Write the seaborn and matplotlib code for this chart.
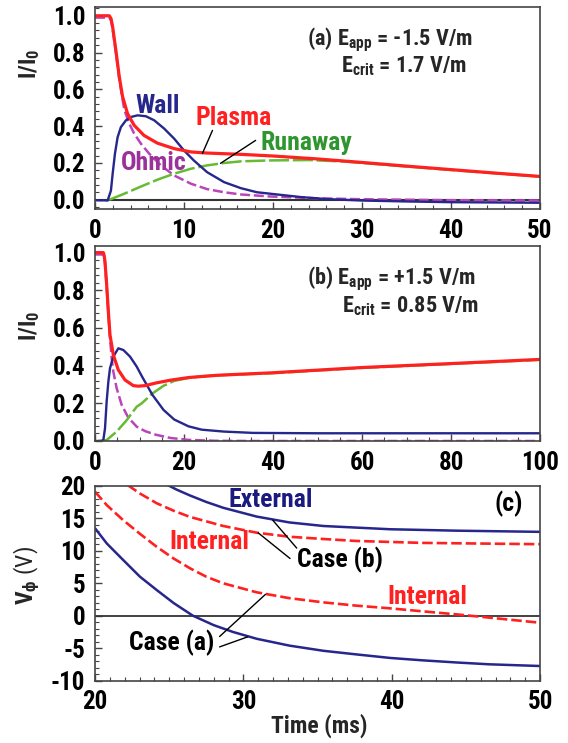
import matplotlib
matplotlib.use("Agg")
import matplotlib.pyplot as plt
import matplotlib.font_manager as fm
from matplotlib.ticker import MultipleLocator, FormatStrFormatter
import seaborn as sns

# ---------------- data ----------------
# Panel (a)
a_plasma_t = [0, 1.6, 1.8, 1.98, 2.35, 2.73, 3.1, 3.66, 4.4, 5.5, 7.0, 8.9, 10.8, 12.6, 16.4, 20, 25, 30, 35, 40, 45, 50]
a_plasma_i = [1.0, 1.0, 0.985, 0.94, 0.81, 0.668, 0.56, 0.468, 0.405, 0.35, 0.308, 0.278, 0.26, 0.254, 0.247, 0.238, 0.222, 0.203, 0.183, 0.164, 0.145, 0.127]
a_wall_t = [0, 1.0, 1.42, 1.79, 1.98, 2.24, 2.54, 2.91, 3.48, 4.04, 4.79, 5.72, 6.65, 7.77, 8.9, 10.0, 11.1, 12.6, 14.5, 16.4, 18.2, 19.7, 23.1, 26, 30, 35, 40, 50]
a_wall_i = [-0.002, -0.003, -0.004, 0.05, 0.14, 0.25, 0.34, 0.395, 0.432, 0.45, 0.459, 0.454, 0.432, 0.387, 0.332, 0.268, 0.214, 0.15, 0.096, 0.063, 0.041, 0.033, 0.015, 0.004, -0.004, -0.009, -0.013, -0.016]
a_ohmic_t = [0, 1.6, 1.8, 1.98, 2.35, 2.73, 3.1, 3.29, 3.85, 4.4, 5.16, 6.1, 7.4, 8.9, 10.8, 12.6, 14.5, 16.4, 19.7, 25, 30, 40, 50]
a_ohmic_i = [0.99, 0.99, 0.975, 0.93, 0.80, 0.655, 0.545, 0.49, 0.414, 0.36, 0.305, 0.25, 0.187, 0.132, 0.087, 0.058, 0.041, 0.029, 0.018, 0.008, 0.003, -0.002, -0.004]
a_runaway_t = [1.6, 3.29, 5.16, 7.0, 8.9, 10.8, 12.6, 14.5, 16.4, 19.7, 24, 28, 30, 35, 40, 45, 50]
a_runaway_i = [0.0, 0.033, 0.072, 0.109, 0.142, 0.169, 0.187, 0.2, 0.209, 0.214, 0.216, 0.208, 0.2, 0.181, 0.162, 0.144, 0.126]

# Panel (b)
b_plasma_t = [0, 1.87, 2.05, 2.25, 2.62, 3.0, 3.37, 4.12, 5.24, 6.74, 8.6, 9.7, 11.3, 13.7, 17, 21.1, 27.6, 39.8, 60, 80, 100]
b_plasma_i = [1.0, 1.0, 0.985, 0.952, 0.83, 0.687, 0.563, 0.457, 0.377, 0.324, 0.294, 0.291, 0.294, 0.308, 0.323, 0.337, 0.349, 0.362, 0.39, 0.411, 0.433]
b_wall_t = [0, 1.5, 1.87, 2.25, 2.62, 3.0, 3.37, 4.12, 5.24, 6.37, 7.87, 9.37, 10.5, 12.9, 15.4, 17.8, 21, 24, 29, 35.5, 50, 100]
b_wall_i = [0.0, 0.0, 0.005, 0.067, 0.21, 0.315, 0.386, 0.448, 0.492, 0.483, 0.448, 0.395, 0.345, 0.245, 0.165, 0.114, 0.078, 0.06, 0.05, 0.043, 0.041, 0.041]
b_ohmic_t = [0, 1.87, 2.05, 2.25, 2.62, 3.0, 3.37, 3.75, 4.12, 4.87, 6.0, 7.49, 9.37, 11.3, 13.7, 17, 21, 27, 35, 100]
b_ohmic_i = [0.99, 0.99, 0.975, 0.94, 0.82, 0.675, 0.545, 0.44, 0.368, 0.28, 0.191, 0.124, 0.076, 0.052, 0.033, 0.016, 0.006, 0.001, 0.0, 0.0]
b_runaway_t = [0.75, 2.62, 4.87, 7.1, 9.37, 10.5, 12.9, 15.4, 17.8, 21.1, 24.3, 27.6, 30, 40, 60, 80, 100]
b_runaway_i = [0.0, 0.005, 0.05, 0.11, 0.182, 0.2, 0.252, 0.293, 0.319, 0.335, 0.344, 0.348, 0.351, 0.360, 0.388, 0.409, 0.431]

# Panel (c)
c_ext_a_t = [20, 20.8, 21.9, 23.03, 24.16, 25.3, 26.6, 28.0, 29.3, 30.9, 33.1, 35.4, 37.6, 39.9, 42.1, 44.4, 46.6, 50]
c_ext_a_v = [13.46, 11.1, 8.57, 6.0, 3.95, 1.95, 0.0, -1.45, -2.5, -3.55, -4.6, -5.4, -5.95, -6.5, -6.87, -7.2, -7.48, -7.74]
c_int_a_t = [20, 20.8, 21.9, 23.03, 24.16, 25.3, 26.4, 27.5, 28.65, 30.9, 33.1, 35.4, 37.6, 39.9, 42.1, 44.4, 46.6, 50]
c_int_a_v = [19.08, 17.0, 14.7, 12.6, 10.6, 8.8, 7.3, 6.0, 4.98, 3.6, 2.7, 2.05, 1.55, 1.13, 0.67, 0.2, -0.3, -1.08]
c_int_b_t = [22.2, 23.03, 24.16, 25.3, 26.4, 28.65, 30.9, 33.1, 35.4, 37.6, 42.1, 50]
c_int_b_v = [20.1, 18.8, 17.3, 16.15, 15.2, 13.8, 12.77, 12.15, 11.8, 11.5, 11.2, 11.0]
c_ext_b_t = [24.9, 25.5, 26.4, 27.5, 28.65, 30.9, 33.1, 35.4, 39.9, 44.4, 50]
c_ext_b_v = [20.1, 19.4, 18.5, 17.5, 16.6, 15.25, 14.35, 13.8, 13.3, 13.08, 12.9]

# ---------------- style ----------------
sns.set_theme(style="ticks")


def _w(v):
    if isinstance(v, str):
        return fm.weight_dict.get(v, 400)
    return v


def pick_font():
    fl = fm.fontManager.ttflist
    names = {f.name for f in fl}
    for p in ["Liberation Sans Narrow", "Arial Narrow", "Roboto Condensed",
              "Noto Sans Condensed", "Open Sans Condensed", "DejaVu Sans Condensed"]:
        if p in names:
            return p, "normal", True
    order = {"condensed": 0, "semi-condensed": 1, "extra-condensed": 2}
    best = None
    for f in fl:
        st = f.stretch if isinstance(f.stretch, str) else "normal"
        low = f.name.lower()
        cond = st in order or "narrow" in low or "condensed" in low or "cond" in low
        if cond and _w(f.weight) >= 600 and "mono" not in low and "serif" not in low:
            rank = order.get(st, 0)
            if best is None or rank < best[0]:
                best = (rank, f.name, st if st in order else "normal")
    if best:
        return best[1], best[2], True
    return "Liberation Sans", "normal", False


FONT, STRETCH, NARROW = pick_font()
WEIGHT = "bold"
plt.rcParams["font.family"] = [FONT, "DejaVu Sans"]
plt.rcParams["font.weight"] = WEIGHT
plt.rcParams["font.stretch"] = STRETCH
plt.rcParams["mathtext.fontset"] = "custom"
pat = FONT + ":bold" + ("" if STRETCH == "normal" else ":stretch=" + STRETCH)
for k in ("rm", "it", "bf", "sf"):
    plt.rcParams["mathtext." + k] = pat
plt.rcParams["axes.unicode_minus"] = False

RED = "#ff2020"
NAVY = "#26268c"
MAG = "#bb44bb"
GRN = "#66bb33"
GRN_T = "#2f962f"
PUR_T = "#993399"
SPINE = "#444444"
K = 1.0 if NARROW else 0.85
TFS = 18 * K    # tick label size
AXL = 17 * K    # axis label size
LFS = 18.5 * K  # curve label size
AFS = 16 * K    # (a)/(b) annotation size

fig = plt.figure(figsize=(5.68, 7.43), dpi=100)
L, W = 95 / 568, 445 / 568
ax_a = fig.add_axes([L, 1 - 209 / 743, W, 201.7 / 743])
ax_b = fig.add_axes([L, 1 - 441 / 743, W, 195 / 743])
ax_c = fig.add_axes([L, 1 - 680.7 / 743, W, 195 / 743])


def style_axes(ax):
    for s in ax.spines.values():
        s.set_color(SPINE)
        s.set_linewidth(1.2)
    ax.tick_params(which="both", direction="in", colors=SPINE, labelcolor="black",
                   top=False, right=False, labelsize=TFS, pad=7)
    ax.tick_params(which="major", length=5, width=1)
    ax.tick_params(which="minor", length=3, width=0.8)
    for lab in ax.get_xticklabels() + ax.get_yticklabels():
        lab.set_fontweight(WEIGHT)


def line(ax, t, v, color, lw, ls="-"):
    sns.lineplot(x=t, y=v, ax=ax, color=color, lw=lw, linestyle=ls, estimator=None)


def leader(ax, p_from, p_to):
    ax.annotate("", xy=p_to, xytext=p_from,
                arrowprops=dict(arrowstyle="-", color="black", lw=1.0, shrinkA=0, shrinkB=0))


def label(ax, x, y, s, color, size):
    ax.text(x, y, s, color=color, fontsize=size, fontweight=WEIGHT, ha="center", va="center")


# ---- panel (a)
ax = ax_a
ax.axhline(0, color="#333333", lw=1.5, zorder=1)
line(ax, a_ohmic_t, a_ohmic_i, MAG, 1.8, (0, (4, 1.5)))
line(ax, a_runaway_t, a_runaway_i, GRN, 1.8, (0, (8, 1.5)))
line(ax, a_wall_t, a_wall_i, NAVY, 1.7)
line(ax, a_plasma_t, a_plasma_i, RED, 2.3)
ax.set_xlim(0, 50)
ax.set_ylim(-0.05, 1.046)
ax.xaxis.set_major_locator(MultipleLocator(10))
ax.xaxis.set_minor_locator(MultipleLocator(2))
ax.yaxis.set_major_locator(MultipleLocator(0.2))
ax.yaxis.set_minor_locator(MultipleLocator(0.04))
ax.yaxis.set_major_formatter(FormatStrFormatter("%.1f"))
ax.set_ylabel(r"$\mathrm{I/I_0}$", fontsize=AXL)
ax.yaxis.set_label_coords(-0.12, 0.72)
ax.text(23.8, 0.84, r"(a) $\mathrm{E_{app}}$ = -1.5 V/m", fontsize=AFS, fontweight=WEIGHT, va="baseline")
ax.text(27.6, 0.69, r"$\mathrm{E_{crit}}$ = 1.7 V/m", fontsize=AFS, fontweight=WEIGHT, va="baseline")
label(ax, 7.03, 0.509, "Wall", NAVY, LFS)
label(ax, 15.6, 0.446, "Plasma", RED, LFS)
label(ax, 23.8, 0.309, "Runaway", GRN_T, LFS)
label(ax, 6.65, 0.20, "Ohmic", PUR_T, LFS)
leader(ax, (13.2, 0.377), (12.07, 0.252))
leader(ax, (18.05, 0.323), (14.1, 0.198))
style_axes(ax)

# ---- panel (b)
ax = ax_b
line(ax, b_ohmic_t, b_ohmic_i, MAG, 1.8, (0, (4, 1.5)))
line(ax, b_runaway_t, b_runaway_i, GRN, 1.8, (0, (8, 1.5)))
line(ax, b_wall_t, b_wall_i, NAVY, 1.7)
line(ax, b_plasma_t, b_plasma_i, RED, 2.3)
ax.set_xlim(0, 100)
ax.set_ylim(0, 1.035)
ax.xaxis.set_major_locator(MultipleLocator(20))
ax.xaxis.set_minor_locator(MultipleLocator(5))
ax.yaxis.set_major_locator(MultipleLocator(0.2))
ax.yaxis.set_minor_locator(MultipleLocator(0.04))
ax.yaxis.set_major_formatter(FormatStrFormatter("%.1f"))
ax.set_ylabel(r"$\mathrm{I/I_0}$", fontsize=AXL)
ax.yaxis.set_label_coords(-0.12, 0.59)
ax.text(47.6, 0.83, r"(b) $\mathrm{E_{app}}$ = +1.5 V/m", fontsize=AFS, fontweight=WEIGHT, va="baseline")
ax.text(55.5, 0.685, r"$\mathrm{E_{crit}}$ = 0.85 V/m", fontsize=AFS, fontweight=WEIGHT, va="baseline")
style_axes(ax)

# ---- panel (c)
ax = ax_c
ax.axhline(0, color="#333333", lw=1.3, zorder=1)
line(ax, c_int_a_t, c_int_a_v, RED, 1.9, (0, (4, 1.5)))
line(ax, c_int_b_t, c_int_b_v, RED, 1.9, (0, (4, 1.5)))
line(ax, c_ext_a_t, c_ext_a_v, NAVY, 1.8)
line(ax, c_ext_b_t, c_ext_b_v, NAVY, 1.8)
ax.set_xlim(20, 50)
ax.set_ylim(-10, 20)
ax.xaxis.set_major_locator(MultipleLocator(10))
ax.xaxis.set_minor_locator(MultipleLocator(1))
ax.yaxis.set_major_locator(MultipleLocator(5))
ax.yaxis.set_minor_locator(MultipleLocator(1))
ax.set_ylabel(r"$\mathrm{V_{\phi}}$ (V)", fontsize=AXL)
ax.yaxis.set_label_coords(-0.12, 0.54)
ax.set_xlabel("Time (ms)", fontsize=AXL, fontweight=WEIGHT)
ax.xaxis.set_label_coords(0.505, -0.17)
label(ax, 31.85, 17.8, "External", "#1a1a80", LFS)
label(ax, 47.9, 17.2, "(c)", "black", LFS)
label(ax, 27.7, 11.3, "Internal", RED, LFS)
label(ax, 36.5, 8.6, "Case (b)", "black", LFS)
label(ax, 42.4, 2.8, "Internal", RED, LFS)
label(ax, 25.2, -4.1, "Case (a)", "black", LFS)
leader(ax, (33.6, 10.4), (31.98, 14.7))
leader(ax, (33.15, 8.8), (31.0, 12.75))
leader(ax, (28.4, -3.2), (31.5, 3.3))
leader(ax, (28.4, -4.8), (30.3, -3.25))
style_axes(ax)

fig.savefig("out.png", dpi=100)
